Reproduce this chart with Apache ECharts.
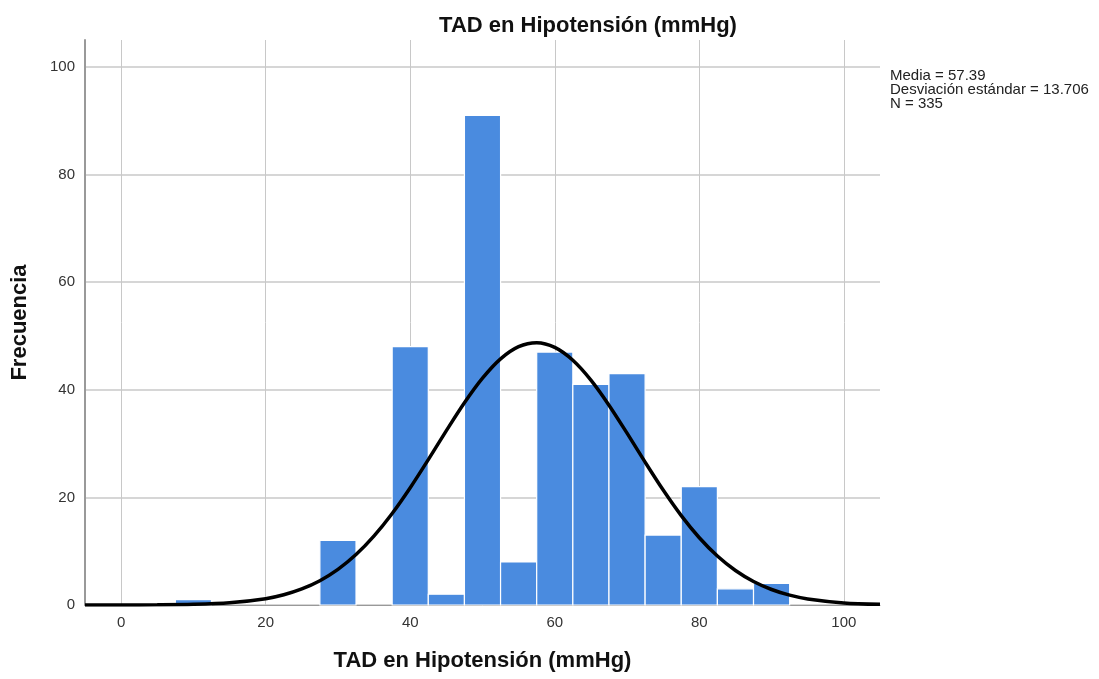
<!DOCTYPE html>
<html><head><meta charset="utf-8">
<script src="https://cdn.jsdelivr.net/npm/echarts@6/dist/echarts.min.js"></script>
<style>html,body{margin:0;padding:0;background:#fff}#c{width:1099px;height:679px}</style>
</head><body><div id="c"></div>
<script>
// Histogram bins (centers, width 5) and frequencies
const binCenters = [10, 30, 40, 45, 50, 55, 60, 65, 70, 75, 80, 85, 90];
const binCounts  = [1, 12, 48, 2, 91, 8, 47, 41, 43, 13, 22, 3, 4];
const binWidth = 5;
// Normal curve
const curveX = [-5, 0, 5, 10, 15, 20, 22.5, 25, 27.5, 30, 32.5, 35, 37.5, 40, 42.5, 45, 47.5, 50, 52.5, 55, 57.5, 60, 62.5, 65, 67.5, 70, 72.5, 75, 77.5, 80, 82.5, 85, 87.5, 90, 92.5, 95, 100, 105];
const curveY = [0.0, 0.01, 0.03, 0.12, 0.41, 1.18, 1.91, 2.99, 4.52, 6.62, 9.37, 12.84, 17.01, 21.80, 27.02, 32.40, 37.58, 42.15, 45.74, 48.01, 48.75, 47.87, 45.48, 41.79, 37.14, 31.93, 26.55, 21.36, 16.61, 12.50, 9.10, 6.41, 4.37, 2.88, 1.83, 1.13, 0.39, 0.12];
const xTicks = [0, 20, 40, 60, 80, 100];
const yTicks = [0, 20, 40, 60, 80, 100];
const titleText = 'TAD en Hipotensión (mmHg)';
const xName = 'TAD en Hipotensión (mmHg)';
const yName = 'Frecuencia';
const statsLines = ['Media = 57.39', 'Desviación estándar = 13.706', 'N = 335'];

const font = 'Liberation Sans, Arial, sans-serif';
const chart = echarts.init(document.getElementById('c'));
chart.setOption({
  animation: false,
  backgroundColor: '#fff',
  title: {text: titleText, left: 583, top: 10, textAlign: 'center',
    textStyle: {fontFamily: font, fontSize: 22, fontWeight: 'bold', color: '#111'}},
  graphic: [{type: 'text', left: 890, top: 68,
    style: {text: statsLines.join('\n'), font: '15px Liberation Sans, Arial', fill: '#222', lineHeight: 14}}],
  grid: {left: 85, right: 219, top: 40, bottom: 74},
  xAxis: {type: 'value', min: -5, max: 105,
    name: xName, nameLocation: 'middle', nameGap: 45,
    nameTextStyle: {fontFamily: font, fontSize: 22, fontWeight: 'bold', color: '#111'},
    axisLine: {show: true, onZero: false, lineStyle: {color: '#999', width: 1}},
    axisTick: {show: false, customValues: xTicks},
    axisLabel: {customValues: xTicks, fontFamily: font, fontSize: 15, color: '#333', margin: 10},
    splitLine: {show: true, lineStyle: {color: '#c8c8c8', width: 1}}},
  yAxis: {type: 'value', min: 0, max: 105,
    name: yName, nameLocation: 'middle', nameGap: 54, nameRotate: 90,
    nameTextStyle: {fontFamily: font, fontSize: 22, fontWeight: 'bold', color: '#111'},
    axisLine: {show: true, onZero: false, lineStyle: {color: '#999', width: 2}},
    axisTick: {show: false, customValues: yTicks},
    axisLabel: {customValues: yTicks, fontFamily: font, fontSize: 15, color: '#333', margin: 10},
    splitLine: {show: true, lineStyle: {color: '#c8c8c8', width: 1.5}}},
  series: [
    {type: 'custom', z: 2,
      data: binCenters.map((c, i) => [c, binCounts[i]]),
      renderItem: function (params, api) {
        const c = api.value(0), v = api.value(1);
        const p1 = api.coord([c - binWidth / 2, v]);
        const p2 = api.coord([c + binWidth / 2, 0]);
        return {type: 'rect', shape: {x: p1[0], y: p1[1], width: p2[0] - p1[0], height: p2[1] - p1[1]},
          style: {fill: '#4A8BDF', stroke: '#ffffff', lineWidth: 1.2}};
      }},
    {type: 'line', z: 3, smooth: 0.3, symbol: 'none',
      data: curveX.map((x, i) => [x, curveY[i]]),
      lineStyle: {color: '#000', width: 3.5}}
  ]
});
</script></body></html>
